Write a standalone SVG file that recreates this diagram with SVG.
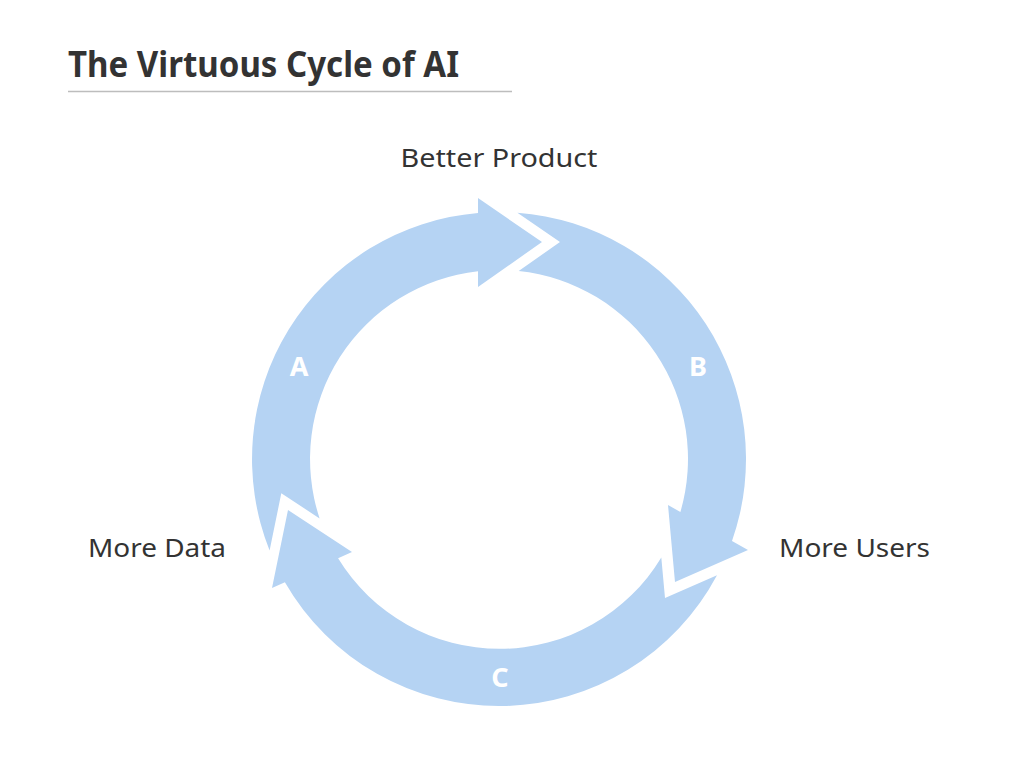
<svg xmlns="http://www.w3.org/2000/svg" width="1024" height="768" viewBox="0 0 1024 768">
<style>
.arrow{fill:#b5d3f3;}
.lbl{font-family:"Noto Sans","Liberation Sans",sans-serif;font-size:26px;fill:#333333;}
.letter{font-family:"Noto Sans","Liberation Sans",sans-serif;font-size:27px;font-weight:bold;fill:#ffffff;text-anchor:middle;}
.title{font-family:"Noto Sans","Liberation Sans",sans-serif;font-size:35px;font-weight:bold;fill:#333333;}
</style>
<rect width="1024" height="768" fill="#ffffff"/>
<g id="title">
<text class="title" x="68" y="77" textLength="391" lengthAdjust="spacingAndGlyphs">The Virtuous Cycle of AI</text>
<line x1="68" y1="91.5" x2="512" y2="91.5" stroke="#bdbdbd" stroke-width="1.5"/>
</g>
<g id="connectors">
<path id="arrowA" class="arrow" d="M269.6,550.5 A247,247 0 0 1 478,212.9 L478,198 L542,242 L478,287 L478,271.2 A189,189 0 0 0 319.6,518.4 L281.3,493.3 Z"/>
<path id="arrowB" class="arrow" d="M517.4,212.7 A247,247 0 0 1 732,541 L748,550 L675,582 L668,505 L680.4,512 A189,189 0 0 0 518.7,271 L560,242 Z"/>
<path id="arrowC" class="arrow" d="M717,575.2 A247,247 0 0 1 284.9,582.2 L272,588 L288,510 L352,552 L338.1,558.2 A189,189 0 0 0 661.3,557.5 L665,598 Z"/>
<text class="letter" x="299" y="376">A</text>
<text class="letter" x="698" y="376">B</text>
<text class="letter" x="500" y="687">C</text>
</g>
<g id="node-better-product">
<text class="lbl" x="499" y="167" text-anchor="middle" textLength="197" lengthAdjust="spacingAndGlyphs">Better Product</text>
</g>
<g id="node-more-users">
<text class="lbl" x="779" y="557" textLength="151" lengthAdjust="spacingAndGlyphs">More Users</text>
</g>
<g id="node-more-data">
<text class="lbl" x="88" y="557" textLength="138" lengthAdjust="spacingAndGlyphs">More Data</text>
</g>
</svg>
